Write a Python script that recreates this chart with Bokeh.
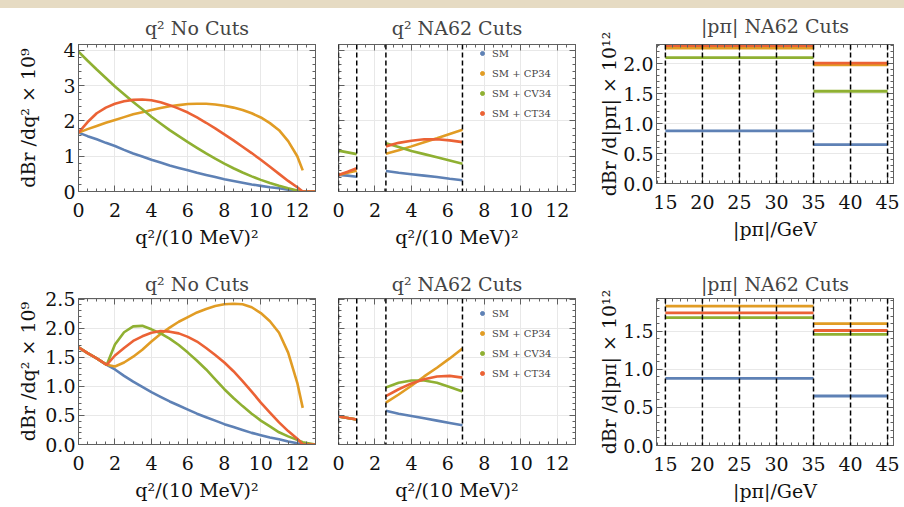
from bokeh.plotting import figure
from bokeh.models import (Range1d, LinearAxis, SingleIntervalTicker, Span, Legend,
                          LegendItem, CustomJSTickFormatter, NumeralTickFormatter, Div)
from bokeh.layouts import row, column
from bokeh.embed import file_html
from bokeh.resources import INLINE

NAN = float("nan")

# ---------------- data ----------------
series_names = ["SM", "SM + CP34", "SM + CV34", "SM + CT34"]
series_colors = ["#5E81B5", "#E19C24", "#8FB032", "#EB6235"]

# q^2 in units of (10 MeV)^2 -- top row, no cuts
q2_top = [0, 0.5, 1, 1.5, 2, 2.5, 3, 3.5, 4, 4.5, 5, 5.5, 6, 6.5, 7, 7.5, 8, 8.5, 9, 9.5,
          10, 10.5, 11, 11.5, 12, 12.3, 13]
top_sm = [1.67, 1.57, 1.48, 1.38, 1.29, 1.18, 1.08, 0.99, 0.90, 0.82, 0.74, 0.67, 0.60, 0.53,
          0.47, 0.41, 0.35, 0.30, 0.25, 0.20, 0.16, 0.12, 0.09, 0.05, 0.02, 0.0, 0.0]
top_cp = [1.67, 1.77, 1.86, 1.95, 2.03, 2.11, 2.19, 2.25, 2.31, 2.37, 2.42, 2.45, 2.48, 2.49,
          2.49, 2.47, 2.43, 2.38, 2.31, 2.22, 2.10, 1.94, 1.74, 1.43, 1.00, 0.60, NAN]
top_cv = [3.97, 3.71, 3.46, 3.22, 2.98, 2.76, 2.54, 2.33, 2.12, 1.93, 1.74, 1.57, 1.40, 1.24,
          1.08, 0.93, 0.79, 0.66, 0.54, 0.43, 0.33, 0.24, 0.16, 0.09, 0.03, 0.0, 0.0]
top_ct = [1.67, 1.97, 2.22, 2.38, 2.49, 2.56, 2.60, 2.61, 2.59, 2.53, 2.45, 2.35, 2.24, 2.10,
          1.95, 1.79, 1.62, 1.45, 1.27, 1.09, 0.90, 0.70, 0.50, 0.30, 0.12, 0.0, 0.0]

# bottom row, no cuts
q2_bot = [0, 0.5, 1, 1.55, 2, 2.5, 3, 3.5, 4, 4.5, 5, 5.5, 6, 6.5, 7, 7.5, 8, 8.5, 9, 9.5,
          10, 10.5, 11, 11.5, 12, 12.3, 13]
bot_sm = [1.67, 1.57, 1.48, 1.37, 1.29, 1.18, 1.08, 0.99, 0.90, 0.82, 0.74, 0.67, 0.60, 0.53,
          0.47, 0.41, 0.35, 0.30, 0.25, 0.20, 0.16, 0.12, 0.09, 0.05, 0.02, 0.0, 0.0]
bot_cp = [1.67, 1.57, 1.48, 1.37, 1.34, 1.41, 1.51, 1.63, 1.77, 1.90, 2.01, 2.11, 2.19, 2.27,
          2.33, 2.38, 2.41, 2.42, 2.41, 2.36, 2.26, 2.12, 1.92, 1.58, 1.06, 0.63, NAN]
bot_cv = [1.67, 1.57, 1.48, 1.37, 1.72, 1.93, 2.03, 2.04, 1.98, 1.91, 1.82, 1.71, 1.58, 1.44,
          1.29, 1.12, 0.95, 0.80, 0.66, 0.53, 0.41, 0.31, 0.21, 0.14, 0.08, 0.04, 0.0]
bot_ct = [1.67, 1.57, 1.48, 1.37, 1.53, 1.66, 1.78, 1.86, 1.92, 1.95, 1.94, 1.91, 1.85, 1.77,
          1.66, 1.54, 1.41, 1.26, 1.09, 0.91, 0.72, 0.55, 0.38, 0.23, 0.10, 0.0, 0.0]

# NA62 signal regions in q^2
na62_bounds = [0.0, 1.0, 2.6, 6.8]
cut_q2_r1 = [0.0, 0.5, 1.0]
cut_q2_r2 = [2.6, 3.3, 4.0, 4.7, 5.4, 6.1, 6.8]

topcut_r1 = {"SM": [0.47, 0.45, 0.42], "SM + CP34": [0.47, 0.53, 0.59],
             "SM + CV34": [1.16, 1.11, 1.06], "SM + CT34": [0.47, 0.56, 0.66]}
topcut_r2 = {"SM": [0.58, 0.53, 0.49, 0.45, 0.41, 0.36, 0.32],
             "SM + CP34": [1.07, 1.17, 1.28, 1.40, 1.51, 1.63, 1.75],
             "SM + CV34": [1.37, 1.26, 1.15, 1.06, 0.97, 0.88, 0.79],
             "SM + CT34": [1.28, 1.38, 1.44, 1.48, 1.48, 1.45, 1.40]}
botcut_r1 = {"SM": [0.48, 0.455, 0.43], "SM + CP34": [0.48, 0.455, 0.43],
             "SM + CV34": [0.48, 0.455, 0.43], "SM + CT34": [0.48, 0.455, 0.43]}
botcut_r2 = {"SM": [0.58, 0.53, 0.49, 0.45, 0.41, 0.37, 0.33],
             "SM + CP34": [0.72, 0.86, 1.01, 1.17, 1.32, 1.48, 1.65],
             "SM + CV34": [0.98, 1.06, 1.10, 1.10, 1.06, 0.99, 0.91],
             "SM + CT34": [0.83, 0.95, 1.05, 1.12, 1.17, 1.18, 1.15]}

# |p_pi| bins (GeV)
p_edges = [15, 35, 45]
p_dashed = [15, 20, 25, 30, 35, 40, 45]
top_p = {"SM": [0.88, 0.65], "SM + CP34": [2.26, 1.98],
         "SM + CV34": [2.10, 1.54], "SM + CT34": [2.30, 2.01]}
bot_p = {"SM": [0.88, 0.65], "SM + CP34": [1.83, 1.60],
         "SM + CV34": [1.68, 1.46], "SM + CT34": [1.74, 1.51]}

# ---------------- styling ----------------
FONT = "'DejaVu Serif', serif"
FRAME = "#606060"
GRID = "#e8e8e8"
TICK_FS = "19px"
LAB_FS = "19px"
LW = 2.6


def style_axis(ax):
    ax.major_tick_in = 6
    ax.major_tick_out = 0
    ax.minor_tick_in = 3
    ax.minor_tick_out = 0
    ax.axis_line_color = FRAME
    ax.major_tick_line_color = FRAME
    ax.minor_tick_line_color = FRAME
    ax.major_label_text_font = FONT
    ax.major_label_text_font_size = TICK_FS
    ax.major_label_text_color = "#111111"
    ax.axis_label_text_font = FONT
    ax.axis_label_text_font_size = LAB_FS
    ax.axis_label_text_font_style = "normal"
    ax.axis_label_text_color = "#111111"


def blank_formatter():
    return CustomJSTickFormatter(code="return ''")


def make_panel(title, xr, yr, xint, xminor, yint, yminor, geom, xlabel, ylabel=None,
               ylabel_standoff=10, show_ylabels=True, xgrid=True, title_standoff=8,
               yfmt=None, clear_border=False):
    ml, fw, mr, mt, fh, mb = geom
    p = figure(frame_width=fw, frame_height=fh, min_border_left=ml, min_border_right=mr,
               min_border_top=mt, min_border_bottom=mb, x_range=Range1d(*xr),
               y_range=Range1d(*yr), output_backend="svg", toolbar_location=None)
    p.title.text = title
    p.title.text_font = FONT
    p.title.text_font_size = "19px"
    p.title.text_font_style = "normal"
    p.title.align = "center"
    p.title.standoff = title_standoff
    p.outline_line_color = FRAME
    p.background_fill_color = "white"
    p.border_fill_color = "white"
    if clear_border:
        p.border_fill_alpha = 0

    xt = SingleIntervalTicker(interval=xint, num_minor_ticks=xminor)
    yt = SingleIntervalTicker(interval=yint, num_minor_ticks=yminor)
    p.xaxis[0].ticker = xt
    p.yaxis[0].ticker = yt
    style_axis(p.xaxis[0])
    style_axis(p.yaxis[0])
    p.xaxis[0].axis_label = xlabel
    p.xaxis[0].major_label_standoff = 11
    p.xaxis[0].axis_label_standoff = 6
    if ylabel:
        p.yaxis[0].axis_label = ylabel
        p.yaxis[0].axis_label_standoff = ylabel_standoff
    p.yaxis[0].major_label_standoff = 3
    if yfmt:
        p.yaxis[0].formatter = NumeralTickFormatter(format=yfmt)
    if not show_ylabels:
        p.yaxis[0].formatter = blank_formatter()
        p.yaxis[0].major_label_standoff = 0

    for place, tk in (("right", yt), ("above", xt)):
        ax = LinearAxis(ticker=SingleIntervalTicker(interval=tk.interval,
                                                    num_minor_ticks=tk.num_minor_ticks),
                        formatter=blank_formatter())
        style_axis(ax)
        ax.major_label_standoff = 0
        p.add_layout(ax, place)

    p.xgrid.grid_line_color = GRID if xgrid else None
    p.ygrid.grid_line_color = GRID
    return p


QX = "q²/(10 MeV)²"
PX = "|pπ|/GeV"
Y_Q = "dBr /dq² × 10⁹"
Y_P = "dBr /d|pπ| × 10¹²"

# (left border, frame width, right border, top border, frame height, bottom border)
geomA = (78, 237, 11, 37, 147, 71)
geomB = (12, 237, 15, 37, 147, 71)
geomC = (66, 237, 8, 41, 139, 75)
geomD = (78, 237, 11, 40, 146, 55)
geomE = (12, 237, 15, 40, 146, 55)
geomF = (66, 237, 8, 38, 147, 56)


def nocut_panel(x, ys, geom, yr, yint, ystand, tstand, yfmt=None, clear=False):
    p = make_panel("q² No Cuts", (0, 13), yr, 2, 4, yint, 5, geom, QX, Y_Q, ystand,
                   title_standoff=tstand, yfmt=yfmt, clear_border=clear)
    for y, c in zip(ys, series_colors):
        p.line(x, y, line_color=c, line_width=LW)
    return p


def cut_panel(r1, r2, geom, yr, yint, legend_loc, tstand, clear=False):
    p = make_panel("q² NA62 Cuts", (0, 13), yr, 2, 4, yint, 5, geom, QX, show_ylabels=False,
                   title_standoff=tstand, clear_border=clear)
    for b in na62_bounds:
        p.add_layout(Span(location=b, dimension="height", line_color="black",
                          line_dash="5 3", line_width=1.5))
    items = []
    for name, c in zip(series_names, series_colors):
        p.line(cut_q2_r1, r1[name], line_color=c, line_width=LW)
        p.line(cut_q2_r2, r2[name], line_color=c, line_width=LW)
        dot = p.scatter(x=[NAN], y=[NAN], color=c, size=4)
        items.append(LegendItem(label=name, renderers=[dot]))
    leg = Legend(items=items, location=legend_loc, label_text_font=FONT,
                 label_text_font_size="10px", glyph_width=10, glyph_height=14,
                 label_height=14, spacing=6, padding=0, margin=0, label_standoff=5,
                 border_line_color=None, background_fill_alpha=0)
    p.add_layout(leg)
    return p


def p_panel(vals, geom, yr, ystand, tstand, clear=False):
    p = make_panel("|pπ| NA62 Cuts", (13.8, 45.8), yr, 5, 5, 0.5, 5, geom, PX, Y_P, ystand,
                   xgrid=False, title_standoff=tstand, yfmt="0.0", clear_border=clear)
    for b in p_dashed:
        p.add_layout(Span(location=b, dimension="height", line_color="black",
                          line_dash="5 3", line_width=1.5))
    for name, c in zip(series_names, series_colors):
        p.segment(x0=p_edges[:-1], y0=vals[name], x1=p_edges[1:], y1=vals[name],
                  line_color=c, line_width=2.8)
    return p


pA = nocut_panel(q2_top, [top_sm, top_cp, top_cv, top_ct], geomA, (0, 4.17), 1, 21, 11,
                 clear=True)
pB = cut_panel(topcut_r1, topcut_r2, geomB, (0, 4.17), 1, (139, 71), 11, clear=True)
pC = p_panel(top_p, geomC, (0, 2.32), 0, 15, clear=True)
pD = nocut_panel(q2_bot, [bot_sm, bot_cp, bot_cv, bot_ct], geomD, (0, 2.51), 0.5, 3, 8,
                 yfmt="0.0")
pE = cut_panel(botcut_r1, botcut_r2, geomE, (0, 2.51), 0.5, (139, 64), 8)
pF = p_panel(bot_p, geomF, (0, 1.93), 0, 7)

strip = Div(text="", width=904, height=8, margin=(0, 0, -5, 0),
            styles={"background-color": "#e6dbc3"})
layout = column(strip, row(pA, pB, pC), row(pD, pE, pF))
open("out.html", "w").write(file_html(layout, INLINE))
